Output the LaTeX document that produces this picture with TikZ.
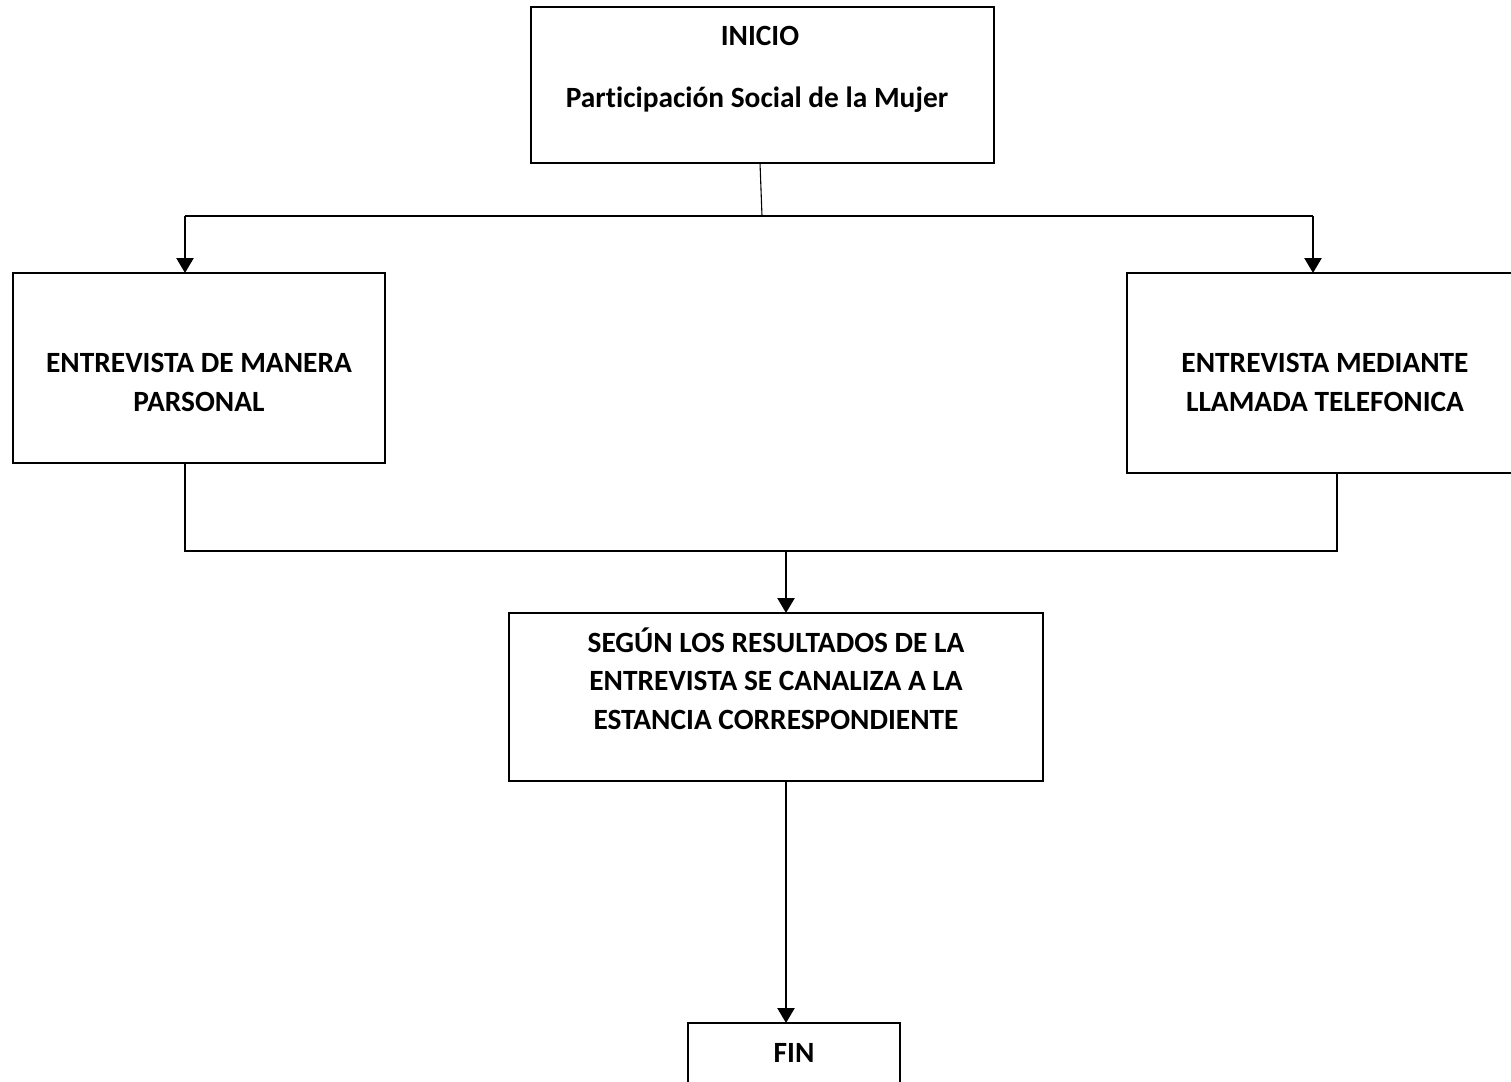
\documentclass[tikz,border=0pt]{standalone}
\usepackage{fontspec}
\setmainfont{Carlito}[Ligatures=NoCommon]
\usetikzlibrary{arrows.meta}
\begin{document}
\begin{tikzpicture}[x=1bp,y=-1bp,
  blk/.style 2 args={draw=black,line width=1.3bp,minimum width=#1,minimum height=#2,inner sep=0pt,outer sep=0pt,anchor=north west},
  txt/.style={font=\bfseries\fontsize{29.5}{38.5}\selectfont,align=center,anchor=base,inner sep=0pt},
  conn/.style={draw=black,line width=1.1bp},
  arr/.style={draw=black,line width=2.4bp,-{Triangle[length=15bp,width=17bp]}}]
\useasboundingbox (0,0) rectangle (1511,1081);
\fill[white] (0,0) rectangle (1511,1081);
% boxes
\node[blk={463bp}{156bp}] (inicio) at (531,7) {};
\node[blk={372bp}{190bp}] (pers) at (13,273) {};
\node[blk={400bp}{200bp}] (tel) at (1127,273) {};
\node[blk={534bp}{168bp}] (canal) at (509,613) {};
\node[blk={212bp}{80bp}] (fin) at (688,1023) {};
% texts (anchor base = baseline of last line)
\node[txt] (t1) at (760,45) {INICIO};
\node[txt] (t2) at (757,107) {Participación Social de la Mujer};
\node[txt] (t3) at (199,411) {ENTREVISTA DE MANERA\\PARSONAL};
\node[txt] (t4) at (1325,411) {ENTREVISTA MEDIANTE\\LLAMADA TELEFONICA};
\node[txt] (t5) at (776,729) {SEGÚN LOS RESULTADOS DE LA\\ENTREVISTA SE CANALIZA A LA\\ESTANCIA CORRESPONDIENTE};
\node[txt] (t6) at (794,1062) {FIN};
% connectors
\coordinate (split) at (762,216);
\coordinate (splL) at (185,216);
\coordinate (splR) at (1313,216);
\coordinate (joinL) at (185,551);
\coordinate (joinR) at (1337,551);
\coordinate (joinM) at (786,551);
\draw[conn] (760,163) -- (split);
\draw[conn] (splL) -- (splR);
\draw[arr] (splL) -- (splL |- pers.north);
\draw[arr] (splR) -- (splR |- tel.north);
\draw[conn] (joinL |- pers.south) -- (joinL) -- (joinR) -- (joinR |- tel.south);
\draw[arr] (joinM) -- (joinM |- canal.north);
\draw[arr] (joinM |- canal.south) -- (joinM |- fin.north);
\end{tikzpicture}
\end{document}
